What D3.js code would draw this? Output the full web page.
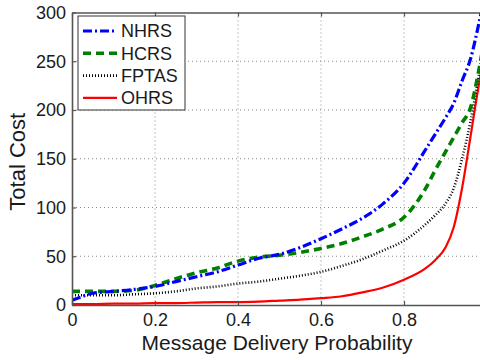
<!DOCTYPE html>
<html>
<head>
<meta charset="utf-8">
<script src="https://cdn.jsdelivr.net/npm/d3@7"></script>
<style>
    body { margin: 0; background: #fff; }
    svg { display: block; font-family: "Liberation Sans", Arial, sans-serif; }
</style>
</head>
<body>
<svg id="chart" width="480" height="360"></svg>
<script>
// delivery probability samples (shared by all series)
const probs = [0, 0.02, 0.05, 0.1, 0.15, 0.2, 0.25, 0.3, 0.35, 0.4, 0.45, 0.5, 0.55, 0.6, 0.65, 0.7, 0.75, 0.8, 0.85, 0.875, 0.9, 0.92, 0.94, 0.96, 0.98, 1.0];

const nhrs  = [5, 8, 12, 14, 16, 19, 24, 29, 34, 41, 48, 52, 59, 68, 78, 89, 104, 125, 158, 175, 192, 207, 230, 252, 288, 330];
const hcrs  = [14, 14, 14, 14, 15, 20, 27, 33, 38, 45, 49, 51, 54, 58, 63, 70, 78, 90, 118, 138, 157, 172, 187, 202, 240, 290];
const fptas = [10, 10, 10, 10, 11, 12, 14, 17, 19, 22, 24, 27, 30, 34, 40, 47, 56, 66, 82, 92, 104, 120, 150, 188, 235, 290];
const ohrs  = [1, 1, 1, 1.5, 1.5, 2, 2, 2.5, 3, 3, 3.5, 4.5, 5.5, 7, 9, 13, 18, 26, 37, 46, 59, 80, 120, 172, 225, 270];

const seriesNames = ["NHRS", "HCRS", "FPTAS", "OHRS"];
const xTicks = [0, 0.2, 0.4, 0.6, 0.8];
const yTicks = [0, 50, 100, 150, 200, 250, 300];

const styles = {
    NHRS:  { color: "#0000ff", width: 3.2, dash: "9,3,2,3" },
    HCRS:  { color: "#008000", width: 3.6, dash: "8,5" },
    FPTAS: { color: "#000000", width: 2.6, dash: "1,2" },
    OHRS:  { color: "#ff0000", width: 2.2, dash: null }
};

const svg = d3.select("#chart");
const margin = { top: 12.5, left: 72, bottom: 305, right: 487 };

const x = d3.scaleLinear().domain([0, 1]).range([margin.left, margin.right]);
const y = d3.scaleLinear().domain([0, 300]).range([margin.bottom, margin.top]);

svg.append("defs").append("clipPath").attr("id", "plotClip")
    .append("rect")
    .attr("x", margin.left).attr("y", margin.top)
    .attr("width", margin.right - margin.left).attr("height", margin.bottom - margin.top);

// grid
const grid = svg.append("g").attr("stroke", "#888").attr("stroke-width", 1).attr("stroke-dasharray", "1,3");
grid.selectAll(".gx").data([0.2, 0.4, 0.6, 0.8, 1.0]).enter().append("line")
    .attr("x1", d => x(d)).attr("x2", d => x(d))
    .attr("y1", margin.top).attr("y2", margin.bottom);
grid.selectAll(".gy").data([50, 100, 150, 200, 250]).enter().append("line")
    .attr("x1", margin.left).attr("x2", margin.right)
    .attr("y1", d => y(d)).attr("y2", d => y(d));

// lines
const plot = svg.append("g").attr("clip-path", "url(#plotClip)");
const series = {
    NHRS: nhrs, HCRS: hcrs, FPTAS: fptas, OHRS: ohrs
};
const line = d3.line()
    .x((d, i) => x(probs[i]))
    .y(d => y(d))
    .curve(d3.curveMonotoneX);

// draw in reverse so NHRS ends up on top
seriesNames.slice().reverse().forEach(name => {
    const st = styles[name];
    plot.append("path")
        .datum(series[name])
        .attr("fill", "none")
        .attr("stroke", st.color)
        .attr("stroke-width", st.width)
        .attr("stroke-dasharray", st.dash)
        .attr("d", line);
});

// axes (ticks pointing inward like matlab)
const axisColor = "#555";
const xAxis = svg.append("g")
    .attr("transform", `translate(0,${margin.bottom})`)
    .call(d3.axisBottom(x).tickValues(xTicks).tickFormat(d => d === 0 ? "0" : d3.format(".1f")(d))
        .tickSizeInner(-4).tickSizeOuter(0).tickPadding(8));
const yAxis = svg.append("g")
    .attr("transform", `translate(${margin.left},0)`)
    .call(d3.axisLeft(y).tickValues(yTicks).tickSizeInner(-4).tickSizeOuter(0).tickPadding(6));
const xTop = svg.append("g")
    .attr("transform", `translate(0,${margin.top})`)
    .call(d3.axisTop(x).tickValues(xTicks).tickFormat("").tickSizeInner(-4).tickSizeOuter(0));

[xAxis, yAxis, xTop].forEach(g => {
    g.select(".domain").attr("stroke", axisColor).attr("stroke-width", 1.6);
    g.selectAll(".tick line").attr("stroke", axisColor).attr("stroke-width", 1.2);
    g.selectAll(".tick text").attr("fill", "#1a1a1a").style("font-size", "18px")
        .style("font-family", "'Liberation Sans', Arial, sans-serif");
});
xAxis.selectAll(".tick text").attr("dy", "0.71em");

// axis titles
svg.append("text")
    .attr("x", (x(0) + x(0.8)) / 2 + 39).attr("y", 350)
    .attr("text-anchor", "middle")
    .attr("fill", "#1a1a1a")
    .style("font-size", "21px")
    .text("Message Delivery Probability");

svg.append("text")
    .attr("transform", `translate(25,${(margin.top + margin.bottom) / 2 + 3}) rotate(-90)`)
    .attr("text-anchor", "middle")
    .attr("fill", "#1a1a1a")
    .style("font-size", "22px")
    .text("Total Cost");

// legend
const legend = svg.append("g");
legend.append("rect")
    .attr("x", 78).attr("y", 16).attr("width", 107).attr("height", 94)
    .attr("fill", "#fff").attr("stroke", "#333").attr("stroke-width", 1);

seriesNames.forEach((name, i) => {
    const st = styles[name];
    const ly = 31 + i * 22.3;
    legend.append("line")
        .attr("x1", 83).attr("x2", 117).attr("y1", ly).attr("y2", ly)
        .attr("stroke", st.color)
        .attr("stroke-width", st.width)
        .attr("stroke-dasharray", st.dash);
    legend.append("text")
        .attr("x", 121).attr("y", ly).attr("dy", "0.36em")
        .attr("fill", "#1a1a1a")
        .style("font-size", "18px")
        .text(name);
});
</script>
</body>
</html>
